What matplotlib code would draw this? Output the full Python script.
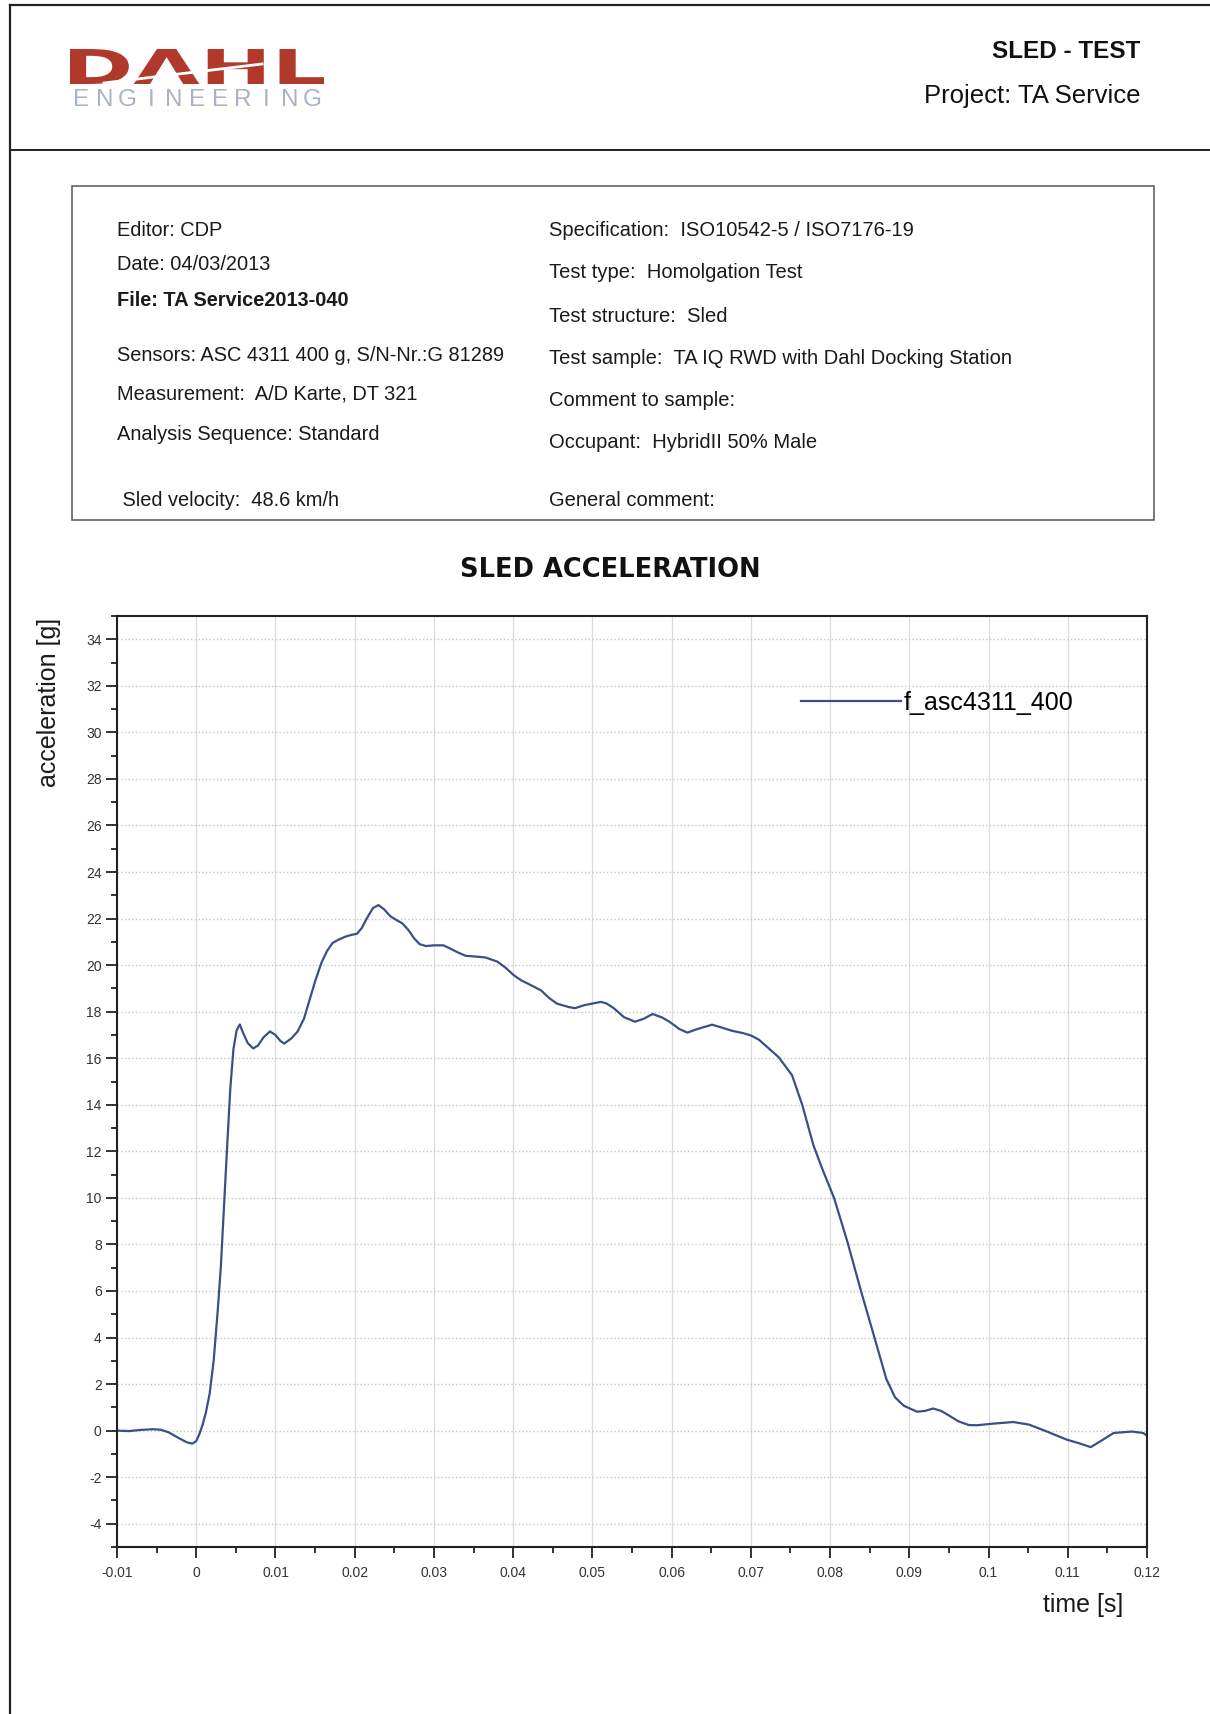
import matplotlib
matplotlib.use("Agg")
import matplotlib.pyplot as plt
from matplotlib.lines import Line2D
from matplotlib.patches import Rectangle, PathPatch
from matplotlib.textpath import TextPath
from matplotlib.font_manager import FontProperties
from matplotlib.transforms import Affine2D

plt.rcParams['font.family'] = ['Liberation Sans', 'DejaVu Sans']
plt.rcParams['axes.unicode_minus'] = False

W, H = 1210, 1714

# sled acceleration trace, time [s] / acceleration [g]
time_s = [
    -0.0100, -0.0085, -0.0070, -0.0055, -0.0045, -0.0035, -0.0022, -0.0012,
    -0.0005, 0.0000, 0.0004, 0.0008, 0.0012, 0.0017, 0.0022, 0.0027, 0.0031,
    0.0035, 0.0039, 0.0043, 0.0047, 0.0051, 0.0055, 0.0059, 0.0065, 0.0072,
    0.0078, 0.0085, 0.0093, 0.0100, 0.0106, 0.0111, 0.0120, 0.0128, 0.0136,
    0.0143, 0.0150, 0.0158, 0.0165, 0.0172, 0.0180, 0.0188, 0.0196, 0.0203,
    0.0209, 0.0216, 0.0223, 0.0230, 0.0237, 0.0245, 0.0252, 0.0260, 0.0268,
    0.0275, 0.0282, 0.0290, 0.0300, 0.0312, 0.0320, 0.0330, 0.0340, 0.0352,
    0.0365, 0.0380, 0.0390, 0.0401, 0.0410, 0.0420, 0.0435, 0.0445, 0.0455,
    0.0470, 0.0478, 0.0490, 0.0500, 0.0511, 0.0518, 0.0527, 0.0540, 0.0554,
    0.0565, 0.0576, 0.0588, 0.0598, 0.0610, 0.0620, 0.0632, 0.0651, 0.0665,
    0.0676, 0.0690, 0.0700, 0.0710, 0.0720, 0.0735, 0.0752, 0.0765, 0.0779,
    0.0790, 0.0805, 0.0822, 0.0839, 0.0856, 0.0871, 0.0882, 0.0893, 0.0910,
    0.0920, 0.0930, 0.0940, 0.0950, 0.0962, 0.0975, 0.0985, 0.1006, 0.1031,
    0.1051, 0.1073, 0.1099, 0.1115, 0.1129, 0.1141, 0.1158, 0.1181, 0.1195,
    0.1200,
]
accel_g = [
    0.00, -0.02, 0.03, 0.06, 0.04, -0.07, -0.32, -0.50,
    -0.56, -0.45, -0.15, 0.25, 0.75, 1.6, 3.0, 5.1, 7.0,
    9.6, 12.2, 14.7, 16.4, 17.2, 17.45, 17.1, 16.65, 16.42,
    16.55, 16.9, 17.15, 17.0, 16.75, 16.63, 16.85, 17.15, 17.7,
    18.5, 19.3, 20.1, 20.6, 20.95, 21.1, 21.22, 21.3, 21.35,
    21.6, 22.05, 22.45, 22.58, 22.4, 22.1, 21.95, 21.8, 21.5,
    21.15, 20.9, 20.82, 20.85, 20.85, 20.72, 20.55, 20.4, 20.37,
    20.33, 20.15, 19.9, 19.56, 19.35, 19.18, 18.92, 18.6, 18.35,
    18.2, 18.15, 18.28, 18.35, 18.42, 18.35, 18.15, 17.76, 17.57,
    17.7, 17.9, 17.75, 17.55, 17.25, 17.1, 17.25, 17.44, 17.3,
    17.18, 17.08, 16.98, 16.8, 16.5, 16.05, 15.27, 13.98, 12.26,
    11.26, 10.0, 8.1, 6.0, 4.0, 2.22, 1.43, 1.07, 0.81,
    0.85, 0.95, 0.85, 0.65, 0.4, 0.24, 0.23, 0.3, 0.37,
    0.26, -0.03, -0.39, -0.55, -0.71, -0.46, -0.1, -0.04, -0.1,
    -0.21,
]

x_ticks = [-0.01, 0.0, 0.01, 0.02, 0.03, 0.04, 0.05, 0.06, 0.07, 0.08, 0.09, 0.10, 0.11, 0.12]
x_labels = ['-0.01', '0', '0.01', '0.02', '0.03', '0.04', '0.05', '0.06',
            '0.07', '0.08', '0.09', '0.1', '0.11', '0.12']
y_ticks = list(range(-4, 35, 2))

left_info = [
    ('Editor: CDP', 231, 'normal'),
    ('Date: 04/03/2013', 265, 'normal'),
    ('File: TA Service2013-040', 300, 'bold'),
    ('Sensors: ASC 4311 400 g, S/N-Nr.:G 81289', 356, 'normal'),
    ('Measurement:  A/D Karte, DT 321', 394, 'normal'),
    ('Analysis Sequence: Standard', 435, 'normal'),
    (' Sled velocity:  48.6 km/h', 500, 'normal'),
]
right_info = [
    ('Specification:  ISO10542-5 / ISO7176-19', 231),
    ('Test type:  Homolgation Test', 273),
    ('Test structure:  Sled', 317),
    ('Test sample:  TA IQ RWD with Dahl Docking Station', 359),
    ('Comment to sample:', 401),
    ('Occupant:  HybridII 50% Male', 442),
    ('General comment:', 500),
]


def fx(px):
    return px / W


def fy(py):
    return 1 - py / H


fig = plt.figure(figsize=(W / 100, H / 100), dpi=100)
fig.patch.set_facecolor('white')

# page frame and header rule
for xs, ys, lw in [((10, W), (5, 5), 1.6), ((10, 10), (5, H), 1.6), ((10, W), (150, 150), 1.4)]:
    fig.add_artist(Line2D([fx(xs[0]), fx(xs[1])], [fy(ys[0]), fy(ys[1])],
                          transform=fig.transFigure, color='#222222', lw=lw))


def fitted_text(s, box, color, weight='bold', family='DejaVu Sans'):
    x0, y0, x1, y1 = box
    tp = TextPath((0, 0), s, size=100, prop=FontProperties(family=family, weight=weight))
    bb = tp.get_extents()
    sx = (x1 - x0) / bb.width
    sy = (y1 - y0) / bb.height
    tr = (Affine2D().translate(-bb.x0, -bb.y0).scale(sx / W, sy / H)
          .translate(fx(x0), fy(y1)) + fig.transFigure)
    fig.add_artist(PathPatch(tp, transform=tr, color=color, lw=0))


# logo
fitted_text('D\u039bHL', (70, 49, 324, 84), '#b0392b')
fig.add_artist(Line2D([fx(104), fx(262)], [fy(83), fy(64)], transform=fig.transFigure,
                      color='white', lw=2.0))
letters = 'ENGINEERING'
for i, ch in enumerate(letters):
    fig.text(fx(70 + (i + 0.5) * 254 / len(letters)), fy(100), ch, ha='center', va='center',
             fontsize=17.5, color='#a9b3c5')

fig.text(fx(1140), fy(52), 'SLED - TEST', ha='right', va='center', fontsize=17.5,
         fontweight='bold', color='#111111')
fig.text(fx(1140), fy(96), 'Project: TA Service', ha='right', va='center', fontsize=18.5,
         color='#111111')

# info box
fig.add_artist(Rectangle((fx(72), fy(520)), fx(1154) - fx(72), fy(186) - fy(520),
                         transform=fig.transFigure, fill=False, ec='#555555', lw=1.1))
for s, y, wgt in left_info:
    fig.text(fx(117), fy(y), s, ha='left', va='center', fontsize=14.4, fontweight=wgt,
             color='#1a1a1a')
for s, y in right_info:
    fig.text(fx(549), fy(y), s, ha='left', va='center', fontsize=14.5, color='#1a1a1a')

fig.text(fx(610), fy(570), 'SLED ACCELERATION', ha='center', va='center', fontsize=18.5,
         fontweight='heavy', family='DejaVu Sans', color='#111111')

# chart
ax = fig.add_axes([fx(117), fy(1547), fx(1147) - fx(117), fy(616) - fy(1547)])
ax.plot(time_s, accel_g, color='#3c4f85', lw=1.6, solid_joinstyle='round',
        label='f_asc4311_400')
ax.set_xlim(-0.01, 0.12)
ax.set_ylim(-5, 35)
ax.set_xticks(x_ticks)
ax.set_xticklabels(x_labels)
ax.set_xticks([t + 0.005 for t in x_ticks[:-1]], minor=True)
ax.set_yticks(y_ticks)
ax.set_yticks(list(range(-5, 36, 2)), minor=True)
ax.tick_params(which='major', length=8, width=1.3, color='#222222', labelsize=10,
               labelcolor='#333333')
ax.tick_params(which='minor', length=4.5, width=1.3, color='#222222')
ax.tick_params(axis='x', pad=6)
ax.tick_params(axis='y', pad=3)
for sp in ax.spines.values():
    sp.set_color('#222222')
    sp.set_linewidth(1.5)
ax.xaxis.grid(True, which='major', color='#dcdcdc', lw=0.9, linestyle='-')
ax.yaxis.grid(True, which='major', color='#c6c6c6', lw=1.0, linestyle=':')
ax.set_axisbelow(True)

ax.legend(loc='center left', bbox_to_anchor=(fx(801), fy(703)), bbox_transform=fig.transFigure,
          frameon=False, fontsize=18, handlelength=4.0, handletextpad=0.1, borderpad=0,
          borderaxespad=0)

fig.text(fx(49), fy(702), 'acceleration [g]', rotation=90, ha='center', va='center',
         fontsize=18, color='#1a1a1a')
fig.text(fx(1123), fy(1605), 'time [s]', ha='right', va='center', fontsize=18,
         color='#1a1a1a')

fig.savefig('out.png', dpi=100, facecolor='white')
